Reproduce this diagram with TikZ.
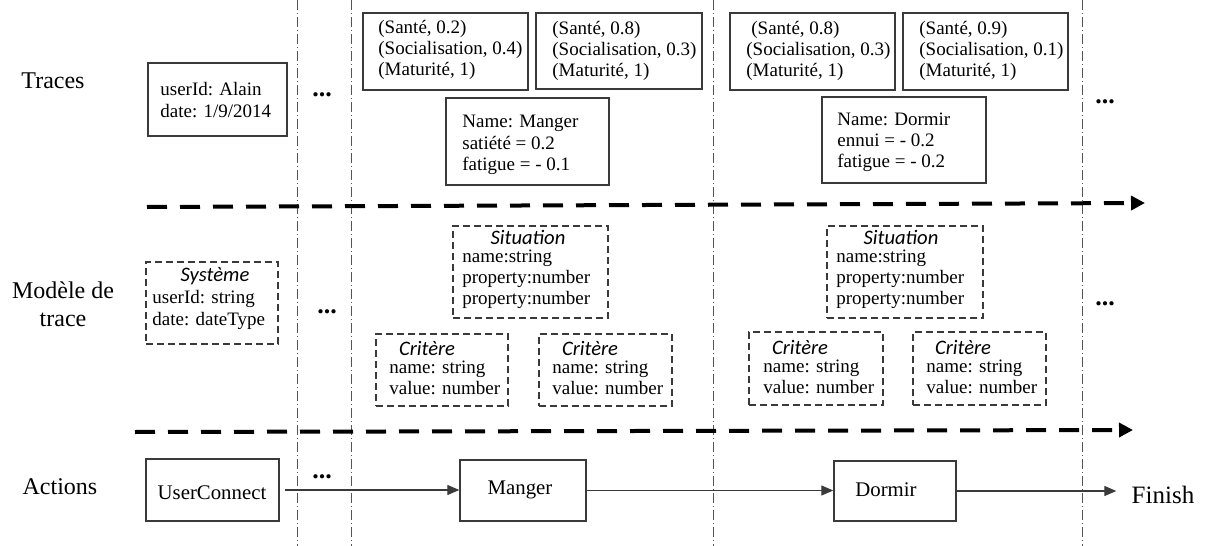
\documentclass[tikz,border=0pt]{standalone}
\usepackage{fontspec}
\setmainfont{Liberation Serif}
\newfontfamily\carl{Carlito}
\usetikzlibrary{arrows.meta,fit}
\definecolor{boxgray}{HTML}{3A3A3A}
\definecolor{sepgray}{HTML}{555555}
\begin{document}
\begin{tikzpicture}[x=0.5pt,y=-0.5pt,
  tbox/.style={draw=boxgray, line width=0.7pt, inner sep=0pt},
  mbox/.style={draw=boxgray, line width=0.7pt, inner sep=0pt, dash pattern=on 3.5pt off 2pt},
  txt/.style={font=\fontsize{9.5}{10.6}\selectfont, align=left, inner sep=0pt, anchor=west},
  ttl/.style={font=\carl\itshape\fontsize{10.3}{12}\selectfont, inner sep=0pt},
  lbl/.style={font=\fontsize{12}{14}\selectfont, align=center, inner sep=0pt},
  act/.style={font=\fontsize{10.4}{12}\selectfont, inner sep=0pt},
  dotsn/.style={font=\bfseries\fontsize{13}{14}\selectfont, inner sep=0pt, anchor=base},
  sep/.style={draw=sepgray, line width=0.5pt, dash pattern=on 5pt off 1.5pt on 0.5pt off 1.5pt},
  lane/.style={line width=2pt, dash pattern=on 10pt off 6.5pt, -{Triangle[length=7pt,width=7pt]}},
  conn/.style={draw=boxgray, line width=0.6pt, -{Triangle[length=6pt,width=5pt]}},
]
\useasboundingbox (0,0) rectangle (1207,546);

% vertical separators
\foreach \x [count=\i] in {297,351,713,1082}{
  \coordinate (v\i t) at (\x,0);
  \coordinate (v\i b) at (\x,546);
  \draw[sep] (v\i t) -- (v\i b);
}

% lane separators
\coordinate (l1s) at (147,207);
\coordinate (l1e) at (1145,203);
\coordinate (l2s) at (135,432);
\coordinate (l2e) at (1133,430);
\draw[lane] (l1s) -- (l1e);
\draw[lane] (l2s) -- (l2e);

% row labels
\node[lbl] (ltr) at (53,81) {Traces};
\node[lbl] (lmo) at (63,304) {Modèle de\\trace};
\node[lbl] (lac) at (60,487) {Actions};

% ---- Traces row
\node[tbox, fit={(148,63) (287,136)}] (ub) {};
\node[txt] (ubt) at (160,100) {userId: Alain\\date: 1/9/2014};
\node[dotsn] (d1) at (322,97) {...};

\node[tbox, fit={(363,13) (528,90)}] (s1) {};
\node[txt] (s1t) at (378,50) {(Santé, 0.2)\\(Socialisation, 0.4)\\(Maturité, 1)};
\node[tbox, fit={(536,13) (702,89)}] (s2) {};
\node[txt] (s2t) at (552,51) {(Santé, 0.8)\\(Socialisation, 0.3)\\(Maturité, 1)};
\node[tbox, fit={(446,98) (609,185)}] (mt) {};
\node[txt] (mtt) at (462,145) {Name: Manger\\satiété = 0.2\\fatigue = - 0.1};

\node[tbox, fit={(730,13) (895,90)}] (s3) {};
\node[txt] (s3t) at (746,51) {\hspace*{2.5pt}(Santé, 0.8)\\(Socialisation, 0.3)\\(Maturité, 1)};
\node[tbox, fit={(903,13) (1068,90)}] (s4) {};
\node[txt] (s4t) at (919,51) {(Santé, 0.9)\\(Socialisation, 0.1)\\(Maturité, 1)};
\node[tbox, fit={(822,97) (986,183)}] (dt) {};
\node[txt] (dtt) at (837,142) {Name: Dormir\\ennui = - 0.2\\fatigue = - 0.2};
\node[dotsn] (d2) at (1105,103) {...};

% ---- Model row
\node[mbox, fit={(146,262) (278,344)}] (sy) {};
\node[ttl] (syh) at (215,276) {Système};
\node[txt] (syt) at (152,310) {userId: string\\date: dateType};
\node[dotsn] (d3) at (327,313) {...};

\node[mbox, fit={(453,226) (608,318)}] (si1) {};
\node[ttl] (si1h) at (528,237) {Situation};
\node[txt] (si1t) at (462,279) {name:string\\property:number\\property:number};
\node[mbox, fit={(376,334) (508,406)}] (c1) {};
\node[ttl] (c1h) at (427,348) {Critère};
\node[txt] (c1t) at (389,378) {name: string\\value: number};
\node[mbox, fit={(539,334) (672,406)}] (c2) {};
\node[ttl] (c2h) at (590,348) {Critère};
\node[txt] (c2t) at (552,378) {name: string\\value: number};

\node[mbox, fit={(827,226) (983,318)}] (si2) {};
\node[ttl] (si2h) at (901,237) {Situation};
\node[txt] (si2t) at (836,279) {name:string\\property:number\\property:number};
\node[mbox, fit={(749,332) (883,405)}] (c3) {};
\node[ttl] (c3h) at (800,347) {Critère};
\node[txt] (c3t) at (763,377) {name: string\\value: number};
\node[mbox, fit={(913,332) (1046,405)}] (c4) {};
\node[ttl] (c4h) at (963,347) {Critère};
\node[txt] (c4t) at (926,377) {name: string\\value: number};
\node[dotsn] (d4) at (1105,305) {...};

% ---- Actions row
\node[tbox, fit={(146,459) (279,521)}] (uc) {};
\node[act] (uct) at (212,493) {UserConnect};
\node[dotsn] (d5) at (322,478) {...};
\node[tbox, fit={(460,460) (586,521)}] (mg) {};
\node[act] (mgt) at (520,490) {Manger};
\node[tbox, fit={(834,461) (956,521)}] (dm) {};
\node[act] (dmt) at (886,490) {Dormir};
\node[lbl, font=\fontsize{12.5}{14}\selectfont] (fin) at (1163,495) {Finish};

\draw[conn, shorten <=2.5pt] (uc.east) -- (uc.east -| mg.west);
\draw[conn] (mg.east) -- (mg.east -| dm.west);
\draw[conn, shorten >=7.5pt] (dm.east) -- (dm.east -| fin.west);
\end{tikzpicture}
\end{document}
